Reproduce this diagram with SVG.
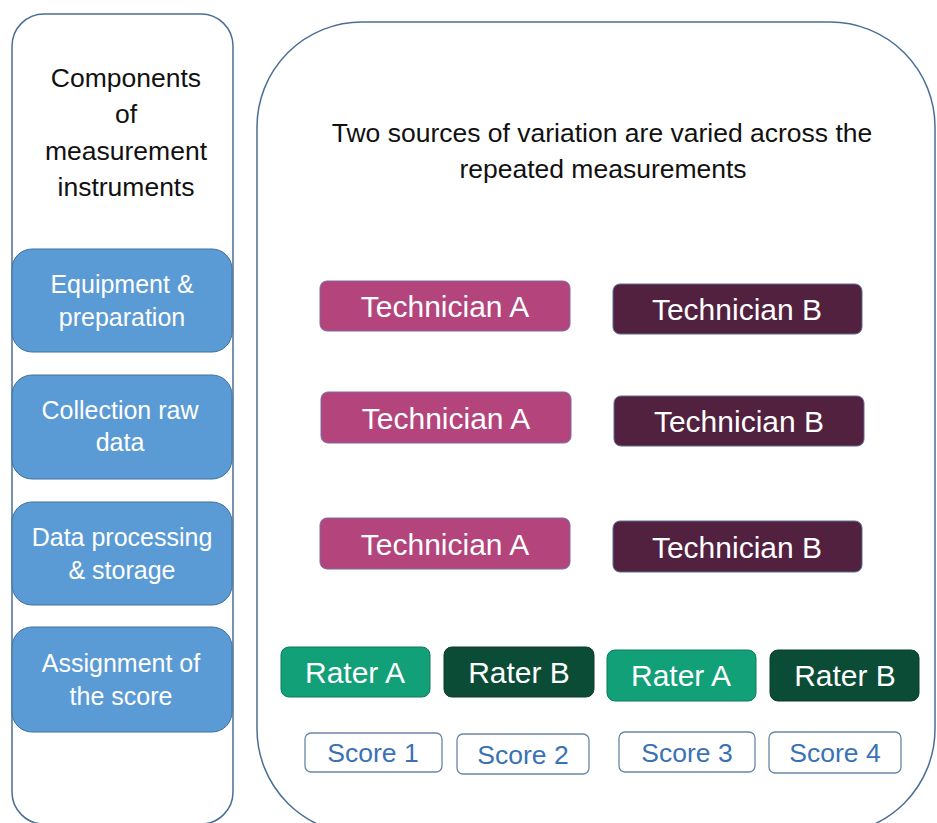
<svg xmlns="http://www.w3.org/2000/svg" width="937" height="823" viewBox="0 0 937 823">
<style>
text{font-family:"Liberation Sans",Arial,sans-serif;text-anchor:middle}
.panel{fill:#fff;stroke:#4a6f95;stroke-width:1.5}
.blue{fill:#5b9bd5;stroke:#41719c;stroke-width:1}
.wt{fill:#fff;font-size:25px}
.ta{fill:#b3457c;stroke:#7b6aa3;stroke-width:1}
.tb{fill:#51213f;stroke:#5a6c95;stroke-width:1}
.tt{fill:#fff;font-size:30px}
.ra{fill:#12a078;stroke:#0d7a5a;stroke-width:1}
.rb{fill:#0b4c36;stroke:#0a3a2a;stroke-width:1}
.sc{fill:#fff;stroke:#6a86a8;stroke-width:1.3}
.st{fill:#3a72b4;font-size:26.5px}
.hd{fill:#111;font-size:26.5px}
</style>
<g id="left-panel">
<rect class="panel" x="12" y="14" width="221" height="810" rx="32"/>
<text class="hd" x="126" y="87">Components</text>
<text class="hd" x="126" y="123">of</text>
<text class="hd" x="126" y="160">measurement</text>
<text class="hd" x="126" y="196">instruments</text>
</g>
<g id="right-panel">
<rect class="panel" x="257" y="22" width="678" height="812" rx="105"/>
<text class="hd" x="602" y="142" font-size="28.5">Two sources of variation are varied across the</text>
<text class="hd" x="603" y="178" font-size="28.5">repeated measurements</text>
</g>
<g id="comp-equipment">
<rect class="blue" x="12" y="249" width="220" height="103" rx="20"/>
<text class="wt" x="122" y="293">Equipment &amp;</text>
<text class="wt" x="122" y="326">preparation</text>
</g>
<g id="comp-collection">
<rect class="blue" x="12" y="375" width="220" height="104" rx="20"/>
<text class="wt" x="120" y="419">Collection raw</text>
<text class="wt" x="120" y="451">data</text>
</g>
<g id="comp-processing">
<rect class="blue" x="12" y="502" width="220" height="103" rx="20"/>
<text class="wt" x="122" y="546">Data processing</text>
<text class="wt" x="122" y="579">&amp; storage</text>
</g>
<g id="comp-assignment">
<rect class="blue" x="12" y="627" width="220" height="105" rx="20"/>
<text class="wt" x="121" y="672">Assignment of</text>
<text class="wt" x="121" y="705">the score</text>
</g>
<g id="tech-a-1"><rect class="ta" x="320" y="281" width="250" height="50" rx="7"/><text class="tt" x="445" y="317">Technician A</text></g>
<g id="tech-b-1"><rect class="tb" x="613" y="284" width="249" height="50" rx="7"/><text class="tt" x="737" y="320">Technician B</text></g>
<g id="tech-a-2"><rect class="ta" x="321" y="392" width="250" height="51" rx="7"/><text class="tt" x="446" y="429">Technician A</text></g>
<g id="tech-b-2"><rect class="tb" x="614" y="396" width="250" height="50" rx="7"/><text class="tt" x="739" y="432">Technician B</text></g>
<g id="tech-a-3"><rect class="ta" x="320" y="518" width="250" height="51" rx="7"/><text class="tt" x="445" y="555">Technician A</text></g>
<g id="tech-b-3"><rect class="tb" x="613" y="521" width="249" height="51" rx="7"/><text class="tt" x="737" y="558">Technician B</text></g>
<g id="rater-a-1"><rect class="ra" x="281" y="647" width="149" height="50" rx="8"/><text class="tt" x="355" y="683">Rater A</text></g>
<g id="rater-b-1"><rect class="rb" x="444" y="647" width="150" height="50" rx="8"/><text class="tt" x="519" y="683">Rater B</text></g>
<g id="rater-a-2"><rect class="ra" x="607" y="650" width="149" height="51" rx="8"/><text class="tt" x="681" y="686">Rater A</text></g>
<g id="rater-b-2"><rect class="rb" x="770" y="650" width="149" height="51" rx="8"/><text class="tt" x="845" y="686">Rater B</text></g>
<g id="score-1"><rect class="sc" x="305" y="733" width="137" height="39" rx="6"/><text class="st" x="373" y="762">Score 1</text></g>
<g id="score-2"><rect class="sc" x="457" y="734" width="132" height="40" rx="6"/><text class="st" x="523" y="764">Score 2</text></g>
<g id="score-3"><rect class="sc" x="619" y="732" width="136" height="40" rx="6"/><text class="st" x="687" y="762">Score 3</text></g>
<g id="score-4"><rect class="sc" x="769" y="732" width="132" height="41" rx="6"/><text class="st" x="835" y="762">Score 4</text></g>
<g id="connectors"></g>
</svg>
